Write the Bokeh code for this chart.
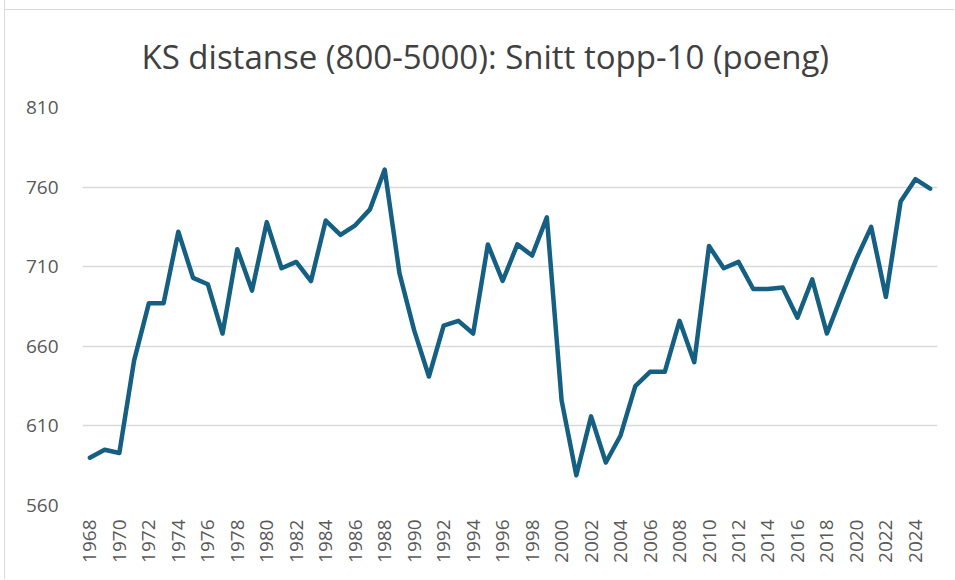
import math
from bokeh.plotting import figure
from bokeh.models import FixedTicker, Range1d
from bokeh.embed import file_html
from bokeh.resources import INLINE

title_text = "KS distanse (800-5000): Snitt topp-10 (poeng)"

years = list(range(1968, 2026))
values = [
    590, 595, 593, 651, 687, 687, 732, 703, 699, 668,
    721, 695, 738, 709, 713, 701, 739, 730, 736, 746,
    771, 706, 670, 641, 673, 676, 668, 724, 701, 724,
    717, 741, 626, 579, 616, 587, 604, 635, 644, 644,
    676, 650, 723, 709, 713, 696, 696, 697, 678, 702,
    668, 692, 715, 735, 691, 751, 765, 759,
]

x_ticks = list(range(1968, 2025, 2))
y_ticks = [560, 610, 660, 710, 760, 810]

p = figure(
    width=950, height=579,
    output_backend="svg", toolbar_location=None,
    x_range=Range1d(1967.5, 2025.5), y_range=Range1d(560, 810),
    min_border_left=77, min_border_right=18, min_border_top=107, min_border_bottom=74,
)
p.styles = {
    "border-left": "1px solid #d9d9d9",
    "margin-left": "4px", "margin-top": "0px",
    "background": "linear-gradient(#d9d9d9, #d9d9d9) 0 9px / 100% 1px no-repeat, white",
}

p.title.text = title_text
p.title.align = "left"
p.title.offset = 59
p.title.text_font = "Open Sans"
p.title.text_font_size = "33px"
p.title.text_font_style = "normal"
p.title.text_color = "#404040"
p.title.standoff = 58

p.outline_line_color = None
p.background_fill_color = "white"
p.border_fill_color = None

p.line(years, values, line_color="#156082", line_width=4.5, line_join="round", line_cap="round")

p.xgrid.grid_line_color = None
p.ygrid.grid_line_color = "#d9d9d9"
p.ygrid.grid_line_width = 1.5

p.yaxis.ticker = FixedTicker(ticks=y_ticks)
p.xaxis.ticker = FixedTicker(ticks=x_ticks)
for ax in (p.xaxis[0], p.yaxis[0]):
    ax.axis_line_color = None
    ax.major_tick_line_color = None
    ax.minor_tick_line_color = None
    ax.major_tick_out = 0
    ax.major_tick_in = 0
    ax.major_label_text_font = "Open Sans"
    ax.major_label_text_font_size = "19px"
    ax.major_label_text_color = "#595959"
p.yaxis.major_label_standoff = 24
p.xaxis.major_label_standoff = 14
p.xaxis.major_label_orientation = math.pi / 2

open("out.html", "w").write(file_html(p, INLINE))
